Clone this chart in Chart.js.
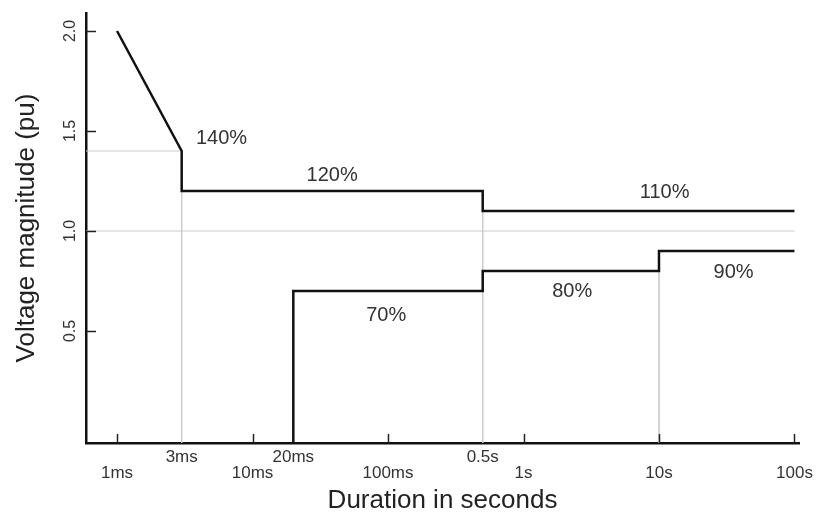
<!DOCTYPE html>
<html>
<head>
<meta charset="utf-8">
<script src="https://cdn.jsdelivr.net/npm/chart.js@4/dist/chart.umd.min.js"></script>
<style>
  body { margin: 0; background: #fff; }
  canvas { display: block; }
</style>
</head>
<body>
<canvas id="myChart" width="821" height="516"></canvas>
<script>
// durations in ms, voltage in pu
const X_MIN = 0.59;
const X_MAX = 108000;
const Y_MIN = -0.06;
const Y_MAX = 2.09;

const tickVals = [1, 3, 10, 20, 100, 500, 1000, 10000, 100000];
const tickLabels = ["1ms", "3ms", "10ms", "20ms", "100ms", "0.5s", "1s", "10s", "100s"];
const tickUpper = [false, true, false, true, false, true, false, false, false];
const majorTicks = [1, 10, 100, 1000, 10000, 100000];
const yTicks = [0.5, 1.0, 1.5, 2.0];

// upper limit curve
const upperT = [1, 3, 3, 500, 500, 100000];
const upperV = [2.0, 1.4, 1.2, 1.2, 1.1, 1.1];

// lower limit curve
const lowerT = [20, 20, 500, 500, 10000, 10000, 100000];
const lowerV = [Y_MIN, 0.7, 0.7, 0.8, 0.8, 0.9, 0.9];

// thin grey guide lines
const guideT = [[X_MIN, 3, 3], [X_MIN, 100000], [500, 500], [10000, 10000]];
const guideV = [[1.4, 1.4, Y_MIN], [1.0, 1.0], [1.1, Y_MIN], [0.9, Y_MIN]];

// percent labels
const noteText = ["140%", "120%", "110%", "70%", "80%", "90%"];
const noteT = [5.9, 38.7, 11000, 97, 2290, 35500];
const noteV = [1.465, 1.28, 1.195, 0.58, 0.70, 0.795];

const FONT = "'Liberation Sans', Arial, sans-serif";
const TEXT = "#333";

const toPoints = (ts, vs) => ts.map((t, k) => ({ x: t, y: vs[k] }));

const datasets = [
    {
        data: toPoints(upperT, upperV),
        borderColor: "#111",
        borderWidth: 2.5,
        order: 1,
    },
    {
        data: toPoints(lowerT, lowerV),
        borderColor: "#111",
        borderWidth: 2.5,
        order: 1,
    },
];

guideT.forEach((ts, k) => {
    datasets.push({
        data: toPoints(ts, guideV[k]),
        borderColor: "#cccccc",
        borderWidth: 1,
        order: 2,
    });
});

const overlay = {
    id: "overlay",
    afterDraw(chart) {
        const { ctx, chartArea: a } = chart;
        const x = chart.scales.x;
        const y = chart.scales.y;
        ctx.save();

        // inward tick marks
        ctx.strokeStyle = "#222";
        ctx.lineWidth = 1.5;
        majorTicks.forEach((t) => {
            const px = Math.round(x.getPixelForValue(t)) + 0.5;
            ctx.beginPath();
            ctx.moveTo(px, a.bottom);
            ctx.lineTo(px, a.bottom - 9);
            ctx.stroke();
        });
        yTicks.forEach((v) => {
            const py = Math.round(y.getPixelForValue(v)) + 0.5;
            ctx.beginPath();
            ctx.moveTo(a.left, py);
            ctx.lineTo(a.left + 10, py);
            ctx.stroke();
        });

        // rotated y tick labels
        ctx.fillStyle = TEXT;
        ctx.font = "16px " + FONT;
        ctx.textAlign = "center";
        ctx.textBaseline = "middle";
        yTicks.forEach((v) => {
            ctx.save();
            ctx.translate(a.left - 15, y.getPixelForValue(v));
            ctx.rotate(-Math.PI / 2);
            ctx.fillText(v.toFixed(1), 0, 0);
            ctx.restore();
        });

        // percent labels
        ctx.font = "20px " + FONT;
        noteText.forEach((s, k) => {
            ctx.fillText(s, x.getPixelForValue(noteT[k]), y.getPixelForValue(noteV[k]));
        });

        ctx.restore();
    },
};

const ctx = document.getElementById("myChart").getContext("2d");
const myChart = new Chart(ctx, {
    type: "scatter",
    data: { datasets },
    options: {
        responsive: false,
        animation: false,
        showLine: true,
        elements: {
            point: { radius: 0, hoverRadius: 0 },
            line: { tension: 0, fill: false },
        },
        layout: { padding: { left: 0, right: 22, top: 13, bottom: 0 } },
        plugins: {
            legend: { display: false },
            tooltip: { enabled: false },
        },
        scales: {
            x: {
                type: "logarithmic",
                min: X_MIN,
                max: X_MAX,
                afterBuildTicks: (scale) => {
                    scale.ticks = tickVals.map((v) => ({ value: v }));
                },
                afterFit: (scale) => {
                    scale.height = 73;
                },
                grid: { display: false, drawTicks: false },
                border: { display: true, color: "#111", width: 2.5 },
                ticks: {
                    autoSkip: false,
                    maxRotation: 0,
                    minRotation: 0,
                    padding: 6,
                    color: TEXT,
                    font: { family: FONT, size: 17, lineHeight: 0.95 },
                    callback: (value, index) => {
                        const k = tickVals.indexOf(value);
                        if (k < 0) return "";
                        return tickUpper[k] ? tickLabels[k] : ["", tickLabels[k]];
                    },
                },
                title: {
                    display: true,
                    text: "Duration in seconds",
                    color: "#222",
                    font: { family: FONT, size: 26, lineHeight: 1.2 },
                    padding: { top: 0, bottom: 0 },
                },
            },
            y: {
                min: Y_MIN,
                max: Y_MAX,
                afterFit: (scale) => {
                    scale.width = 86;
                },
                grid: { display: false, drawTicks: false },
                border: { display: true, color: "#111", width: 2.5 },
                ticks: { display: false },
                title: {
                    display: true,
                    text: "Voltage magnitude (pu)",
                    color: "#222",
                    font: { family: FONT, size: 26, lineHeight: 1.2 },
                    padding: { top: 11, bottom: 0 },
                },
            },
        },
    },
    plugins: [overlay],
});
</script>
</body>
</html>
